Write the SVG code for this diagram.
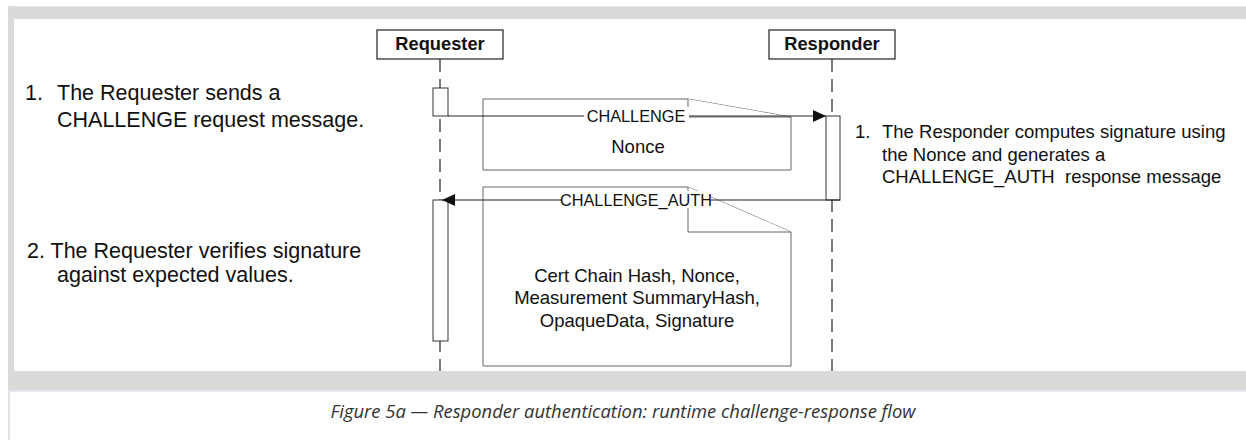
<svg xmlns="http://www.w3.org/2000/svg" width="1246" height="440" viewBox="0 0 1246 440">
  <style>
    .frame { fill: #dadada; }
    .lbl { font-family: "Liberation Sans", Arial, sans-serif; fill: #111; }
    .head { font-family: "Liberation Sans", Arial, sans-serif; font-weight: bold; font-size: 18.3px; fill: #111; text-anchor: middle; }
    .box { fill: #fff; stroke: #222; stroke-width: 1.2; }
    .life { stroke: #222; stroke-width: 1.2; stroke-dasharray: 13 7; fill: none; }
    .act { fill: #fff; stroke: #333; stroke-width: 1; }
    .note { fill: #fff; stroke: #666; stroke-width: 1; }
    .msg { stroke: #222; stroke-width: 1; fill: none; }
    .mlbl { font-family: "Liberation Sans", Arial, sans-serif; font-size: 16.3px; fill: #111; text-anchor: middle; }
    .body { font-family: "Liberation Sans", Arial, sans-serif; font-size: 18.5px; fill: #111; text-anchor: middle; }
    .cap { font-family: "Open Sans", "Liberation Sans", sans-serif; font-style: italic; font-size: 17.5px; fill: #333; text-anchor: middle; }
  </style>
  <defs>
    <marker id="arrow" viewBox="0 0 13 12" refX="13" refY="6" markerWidth="13" markerHeight="12" markerUnits="userSpaceOnUse" orient="auto">
      <path d="M0,0 L13,6 L0,12 Z" fill="#111"/>
    </marker>
  </defs>

  <!-- page frame -->
  <rect x="0" y="0" width="1246" height="440" fill="#fff"/>
  <rect class="frame" x="8" y="6" width="1238" height="13"/>
  <rect x="8" y="6" width="1238" height="1" fill="#e6eaee"/>
  <rect class="frame" x="8" y="6" width="6" height="384"/>
  <rect class="frame" x="8" y="371" width="1238" height="19"/>
  <rect x="8" y="390" width="1238" height="2" fill="#e2e8ee"/>
  <rect x="8" y="390" width="2" height="50" fill="#dfe4e9"/>

  <!-- lifelines -->
  <g id="lifelines">
    <line class="life" x1="440" y1="59" x2="440" y2="371"/>
    <line class="life" x1="832" y1="59" x2="832" y2="371"/>
  </g>

  <!-- participants -->
  <g id="requester">
    <rect class="box" x="377" y="30" width="126" height="29"/>
    <text class="head" x="440" y="50">Requester</text>
  </g>
  <g id="responder">
    <rect class="box" x="769" y="30" width="126" height="29"/>
    <text class="head" x="832" y="50">Responder</text>
  </g>

  <!-- activations -->
  <g id="activations">
    <rect class="act" x="433" y="88" width="15" height="28"/>
    <rect class="act" x="826" y="116" width="14" height="84"/>
    <rect class="act" x="433" y="200" width="15" height="141"/>
  </g>

  <!-- message notes -->
  <g id="note-challenge">
    <path class="note" d="M483,99 L688,99 L791,117 L791,170 L483,170 Z"/>
    <path class="note" d="M688,99 L688,117 L791,117" fill="none"/>
    <text class="body" x="638" y="153">Nonce</text>
  </g>
  <g id="note-challenge-auth">
    <path class="note" d="M483,187 L688,187 L791,232 L791,366 L483,366 Z"/>
    <path class="note" d="M688,187 L688,232 L791,232" fill="none"/>
    <text class="body" x="637" y="282">Cert Chain Hash, Nonce,</text>
    <text class="body" x="637" y="304">Measurement SummaryHash,</text>
    <text class="body" x="637" y="327">OpaqueData, Signature</text>
  </g>

  <!-- connectors -->
  <g id="connectors">
    <line class="msg" x1="448" y1="116" x2="826" y2="116" marker-end="url(#arrow)"/>
    <rect x="584" y="107" width="105" height="17" fill="#fff"/>
    <text class="mlbl" x="636" y="122">CHALLENGE</text>
    <line class="msg" x1="840" y1="200" x2="442" y2="200" marker-end="url(#arrow)"/>
    <rect x="561" y="191" width="150" height="17" fill="#fff"/>
    <text class="mlbl" x="636" y="206">CHALLENGE_AUTH</text>
  </g>

  <!-- step descriptions -->
  <g id="step-req-1">
    <text class="lbl" font-size="21.5px"><tspan x="25" y="100">1.</tspan><tspan x="57" y="100">The Requester sends a</tspan><tspan x="57" y="127">CHALLENGE request message.</tspan></text>
  </g>
  <g id="step-resp-1">
    <text class="lbl" font-size="18.5px"><tspan x="855" y="138">1.</tspan><tspan x="882" y="138">The Responder computes signature using</tspan><tspan x="882" y="161">the Nonce and generates a</tspan><tspan x="882" y="183">CHALLENGE_AUTH&#160; response message</tspan></text>
  </g>
  <g id="step-req-2">
    <text class="lbl" font-size="21.5px"><tspan x="27" y="258">2. The Requester verifies signature</tspan><tspan x="57" y="282">against expected values.</tspan></text>
  </g>

  <!-- caption -->
  <text class="cap" x="623" y="418" textLength="585" lengthAdjust="spacingAndGlyphs">Figure 5a — Responder authentication: runtime challenge-response flow</text>
</svg>
